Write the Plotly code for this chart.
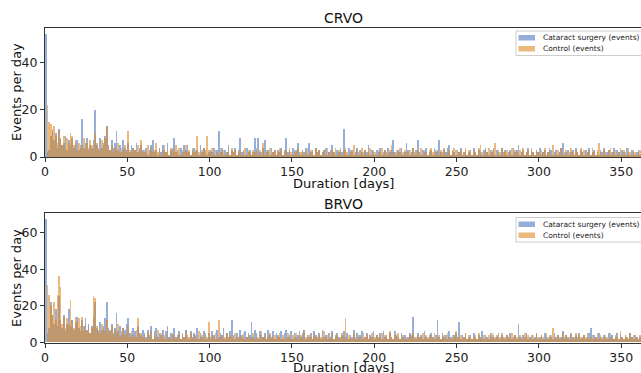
import plotly.graph_objects as go

# ---------------- data (events per day, day 0 .. 364) ----------------
crvo_cataract = [
    52, 2, 3, 9, 11, 7, 10, 4, 12, 8, 5, 6, 9, 3, 7, 5, 8, 4, 6, 7,
    3, 5, 16, 4, 6, 8, 3, 5, 4, 7, 20, 5, 3, 8, 4, 6, 9, 13, 5, 3,
    7, 4, 6, 11, 3, 5, 2, 7, 4, 3, 6, 2, 5, 4, 3, 6, 2, 4, 5, 3,
    2, 4, 1, 3, 5, 7, 2, 3, 1, 4, 2, 5, 3, 2, 6, 1, 3, 4, 8, 2,
    3, 1, 4, 2, 5, 3, 5, 2, 1, 3, 4, 2, 3, 1, 5, 2, 4, 3, 1, 2,
    3, 2, 4, 1, 3, 11, 2, 4, 1, 3, 2, 5, 1, 3, 2, 4, 1, 3, 8, 2,
    3, 1, 4, 2, 3, 1, 2, 8, 3, 8, 2, 1, 4, 7, 2, 3, 1, 4, 2, 3,
    1, 3, 2, 4, 1, 3, 8, 2, 3, 1, 4, 2, 3, 6, 2, 1, 3, 2, 4, 1,
    6, 2, 3, 1, 4, 2, 3, 1, 2, 3, 4, 1, 2, 3, 5, 2, 1, 3, 2, 4,
    2, 12, 3, 1, 4, 2, 3, 1, 2, 4, 1, 3, 2, 1, 3, 2, 5, 1, 3, 2,
    1, 3, 2, 4, 1, 2, 3, 1, 4, 2, 3, 7, 2, 1, 3, 2, 4, 1, 2, 6,
    3, 1, 2, 4, 1, 3, 7, 2, 1, 3, 2, 4, 1, 2, 3, 1, 4, 2, 3, 7,
    2, 1, 3, 2, 4, 5, 1, 3, 2, 1, 3, 2, 4, 1, 2, 3, 1, 2, 3, 1,
    4, 2, 1, 3, 2, 1, 3, 4, 2, 1, 3, 2, 4, 1, 3, 2, 1, 4, 2, 3,
    1, 2, 3, 1, 4, 2, 3, 5, 1, 2, 3, 1, 2, 4, 1, 3, 2, 1, 3, 2,
    4, 1, 2, 3, 1, 2, 4, 3, 1, 2, 3, 1, 2, 4, 6, 1, 2, 3, 1, 2,
    3, 1, 4, 2, 1, 3, 2, 1, 3, 2, 4, 1, 2, 3, 1, 2, 1, 3, 2, 4,
    1, 2, 3, 1, 2, 4, 1, 3, 2, 1, 3, 2, 1, 4, 2, 1, 3, 2, 1, 2, 3, 1, 2, 1, 3,
]
crvo_control = [
    0, 22, 15, 14, 12, 13, 9, 6, 11, 7, 5, 9, 4, 8, 6, 10, 9, 5, 7, 3,
    6, 4, 5, 8, 3, 6, 4, 7, 5, 3, 10, 6, 4, 3, 7, 5, 8, 13, 4, 3,
    5, 2, 4, 3, 6, 2, 4, 3, 5, 2, 11, 3, 2, 4, 3, 2, 5, 3, 7, 2,
    3, 2, 5, 1, 4, 2, 3, 6, 2, 4, 1, 3, 5, 2, 3, 1, 4, 2, 3, 5,
    2, 4, 1, 3, 2, 5, 2, 3, 1, 4, 2, 3, 9, 2, 1, 3, 4, 2, 9, 3,
    2, 4, 1, 3, 2, 1, 4, 2, 3, 1, 2, 3, 1, 4, 2, 3, 1, 2, 3, 1,
    2, 4, 1, 3, 2, 1, 3, 2, 4, 1, 3, 2, 6, 1, 3, 2, 4, 1, 2, 3,
    1, 2, 4, 3, 1, 2, 3, 1, 4, 2, 1, 3, 2, 4, 1, 2, 3, 1, 2, 4,
    1, 3, 2, 1, 4, 2, 3, 1, 2, 3, 1, 4, 2, 1, 3, 2, 4, 1, 3, 2,
    1, 3, 4, 2, 1, 3, 2, 5, 1, 3, 2, 1, 4, 2, 3, 1, 2, 4, 1, 3,
    2, 1, 3, 2, 4, 1, 3, 2, 1, 3, 5, 2, 1, 3, 2, 4, 1, 2, 3, 1,
    2, 3, 1, 4, 2, 1, 3, 2, 4, 1, 3, 2, 1, 3, 4, 2, 1, 3, 2, 1,
    3, 2, 4, 1, 2, 3, 1, 2, 4, 3, 1, 2, 3, 1, 2, 4, 1, 3, 2, 1,
    3, 2, 1, 4, 5, 2, 1, 3, 2, 4, 1, 3, 2, 6, 1, 3, 2, 4, 1, 2,
    3, 1, 2, 4, 1, 3, 2, 1, 3, 2, 4, 1, 2, 3, 1, 4, 2, 1, 3, 2,
    1, 3, 2, 4, 1, 2, 3, 1, 5, 2, 1, 3, 2, 4, 1, 2, 3, 1, 2, 4,
    2, 1, 3, 2, 1, 4, 2, 3, 1, 2, 3, 1, 4, 2, 1, 3, 6, 2, 1, 3,
    2, 1, 3, 4, 1, 2, 3, 1, 2, 4, 1, 3, 2, 1, 4, 2, 1, 3, 2, 1, 2, 3, 1, 2, 1,
]
brvo_cataract = [
    67, 5, 8, 22, 15, 10, 18, 9, 25, 12, 8, 15, 6, 10, 18, 9, 12, 7, 11, 14,
    8, 6, 12, 9, 13, 7, 10, 5, 9, 14, 22, 8, 6, 11, 7, 9, 13, 22, 8, 6,
    10, 5, 8, 16, 6, 9, 4, 8, 7, 10, 13, 5, 4, 8, 6, 3, 9, 5, 4, 7,
    5, 3, 7, 4, 9, 2, 6, 8, 3, 5, 4, 7, 2, 6, 9, 3, 5, 4, 8, 3,
    4, 6, 2, 5, 3, 7, 4, 2, 6, 3, 5, 4, 8, 2, 5, 3, 6, 4, 2, 5,
    3, 6, 4, 2, 7, 3, 5, 4, 8, 2, 5, 3, 6, 12, 4, 2, 5, 3, 7, 4,
    2, 6, 3, 5, 4, 11, 3, 7, 5, 2, 6, 4, 3, 5, 2, 7, 4, 3, 6, 2,
    5, 4, 3, 6, 2, 5, 7, 3, 4, 6, 2, 5, 3, 4, 6, 3, 5, 7, 2, 4,
    3, 5, 2, 6, 4, 3, 5, 2, 7, 3, 4, 2, 5, 3, 6, 2, 4, 5, 3, 2,
    4, 6, 3, 5, 2, 4, 3, 7, 2, 5, 3, 4, 6, 2, 3, 5, 2, 4, 3, 6,
    2, 4, 3, 5, 2, 6, 3, 4, 2, 5, 3, 2, 6, 4, 3, 2, 5, 3, 4, 2,
    3, 5, 4, 14, 3, 2, 5, 3, 4, 2, 6, 3, 2, 4, 5, 3, 2, 4, 12, 3,
    2, 5, 3, 4, 2, 6, 3, 2, 4, 5, 3, 11, 2, 4, 3, 5, 2, 3, 4, 2,
    5, 3, 2, 4, 3, 6, 2, 4, 3, 2, 5, 3, 4, 2, 3, 5, 2, 4, 3, 2,
    4, 3, 5, 2, 3, 4, 2, 10, 3, 2, 4, 3, 5, 2, 3, 4, 2, 3, 5, 2,
    3, 4, 2, 5, 3, 2, 4, 3, 2, 5, 3, 4, 2, 3, 6, 2, 4, 3, 2, 5,
    3, 2, 4, 3, 5, 2, 3, 4, 2, 3, 5, 8, 2, 4, 3, 2, 5, 3, 2, 4,
    3, 2, 5, 3, 4, 2, 3, 5, 2, 4, 3, 2, 4, 3, 2, 5, 3, 2, 4, 3, 2, 3, 4, 2, 3,
]
brvo_control = [
    0, 31, 26, 20, 15, 22, 12, 26, 36, 30, 10, 14, 8, 13, 10, 23, 12, 8, 14, 11,
    13, 9, 14, 7, 10, 6, 9, 5, 8, 25, 24, 9, 7, 5, 10, 8, 6, 12, 5, 7,
    9, 4, 7, 5, 10, 3, 6, 8, 4, 5, 9, 3, 6, 4, 3, 7, 13, 4, 5, 3,
    4, 2, 5, 3, 6, 2, 4, 3, 7, 2, 5, 3, 4, 2, 6, 3, 2, 5, 4, 2,
    3, 5, 2, 4, 3, 6, 2, 3, 5, 2, 4, 3, 2, 6, 3, 4, 2, 5, 3, 11,
    2, 4, 3, 5, 2, 12, 3, 4, 2, 3, 5, 2, 4, 3, 2, 5, 3, 2, 4, 3,
    5, 2, 3, 4, 2, 3, 5, 2, 4, 3, 2, 6, 3, 4, 2, 3, 5, 2, 3, 4,
    2, 3, 5, 2, 4, 3, 2, 5, 3, 2, 4, 3, 5, 2, 3, 4, 2, 6, 3, 2,
    4, 3, 2, 5, 3, 2, 4, 3, 2, 6, 3, 4, 2, 3, 5, 2, 3, 4, 2, 3,
    5, 3, 13, 2, 4, 3, 2, 5, 3, 2, 4, 3, 2, 5, 3, 4, 2, 3, 5, 2,
    3, 4, 2, 3, 5, 2, 4, 3, 2, 6, 3, 2, 4, 3, 5, 2, 3, 4, 2, 3,
    2, 4, 3, 5, 2, 3, 4, 2, 3, 5, 2, 4, 3, 2, 4, 3, 5, 2, 3, 4,
    2, 3, 4, 2, 5, 3, 2, 4, 3, 6, 2, 3, 4, 2, 3, 5, 2, 4, 3, 2,
    3, 4, 2, 5, 3, 2, 4, 3, 2, 4, 3, 5, 2, 3, 4, 2, 3, 5, 2, 3,
    4, 2, 3, 5, 2, 4, 3, 2, 4, 3, 2, 5, 3, 4, 2, 3, 4, 2, 5, 3,
    2, 4, 3, 2, 5, 3, 2, 4, 8, 3, 2, 4, 3, 2, 5, 3, 4, 2, 3, 4,
    2, 3, 5, 2, 4, 3, 2, 4, 3, 5, 2, 3, 4, 2, 3, 5, 2, 4, 3, 2,
    4, 3, 2, 5, 3, 2, 4, 3, 2, 6, 3, 2, 4, 3, 2, 5, 3, 4, 2, 3, 2, 4, 3, 2, 3,
]
series_names = ["Cataract surgery (events)", "Control (events)"]
panel_titles = ["CRVO", "BRVO"]
x_ticks = [0, 50, 100, 150, 200, 250, 300, 350]
top_y_ticks = [0, 20, 40]
bottom_y_ticks = [0, 20, 40, 60]

BLUE = "rgba(72,118,190,0.58)"
ORANGE = "rgba(221,136,40,0.6)"
FONT = "DejaVu Sans"
AX = "#333333"

W, H = 641, 373
ML, MR, MT, MB = 45, 0, 28, 30
PW, PH = W - ML - MR, H - MT - MB


def px(xp):  # page pixel x -> paper x
    return (xp - ML) / PW


def py(yp):  # page pixel y -> paper y
    return (H - MB - yp) / PH


fig = go.Figure()


def add_pair(cat, ctl, xa, ya):
    fig.add_trace(go.Bar(x=list(range(len(cat))), y=cat, width=1, offset=0,
                         marker=dict(color=BLUE, line=dict(width=0)),
                         name=series_names[0], xaxis=xa, yaxis=ya, showlegend=False))
    fig.add_trace(go.Bar(x=list(range(len(ctl))), y=ctl, width=1, offset=0,
                         marker=dict(color=ORANGE, line=dict(width=0)),
                         name=series_names[1], xaxis=xa, yaxis=ya, showlegend=False))


add_pair(crvo_cataract, crvo_control, "x", "y")
add_pair(brvo_cataract, brvo_control, "x2", "y2")

top_max = max(max(crvo_cataract), max(crvo_control)) * 1.05
bot_max = max(max(brvo_cataract), max(brvo_control)) * 1.05

axis_common = dict(showline=True, linecolor=AX, linewidth=1, ticks="outside",
                   ticklen=4, tickcolor=AX, showgrid=False, zeroline=False,
                   automargin=False,
                   tickfont=dict(family=FONT, size=12.5, color="#222"))

top_dom = [py(157), min(1, py(27.7))]
bot_dom = [max(0, py(342.7)), py(213.3)]

fig.update_layout(
    width=W, height=H,
    margin=dict(l=ML, r=MR, t=MT, b=MB),
    paper_bgcolor="white", plot_bgcolor="white",
    barmode="overlay", bargap=0,
    font=dict(family=FONT, color="#222"),
    xaxis=dict(domain=[0, 1], anchor="y", range=[0, 362], tickvals=x_ticks,
               mirror=True, ticklabelstandoff=-1, **axis_common),
    yaxis=dict(domain=top_dom, anchor="x", range=[0, top_max], tickvals=top_y_ticks,
               **axis_common),
    xaxis2=dict(domain=[0, 1], anchor="y2", range=[0, 362], tickvals=x_ticks,
                mirror=True, ticklabelstandoff=-1, **axis_common),
    yaxis2=dict(domain=bot_dom, anchor="x2", range=[0, bot_max], tickvals=bottom_y_ticks,
                **axis_common),
)

ann = []
shapes = []
for title, yc in zip(panel_titles, [18, 204]):
    ann.append(dict(text=title, x=px(343), y=py(yc), xref="paper", yref="paper",
                    showarrow=False, xanchor="center", yanchor="middle",
                    font=dict(family=FONT, size=14, color="#111")))
for yc in [183, 367]:
    ann.append(dict(text="Duration [days]", x=px(343), y=py(yc), xref="paper", yref="paper",
                    showarrow=False, xanchor="center", yanchor="middle",
                    font=dict(family=FONT, size=13, color="#111")))
for yc in [92, 278]:
    ann.append(dict(text="Events per day", x=px(16), y=py(yc), xref="paper", yref="paper",
                    showarrow=False, xanchor="center", yanchor="middle", textangle=-90,
                    font=dict(family=FONT, size=13, color="#111")))

# legends (one per panel), drawn as frame + colour patches + labels
for top in [31, 217.5]:
    shapes.append(dict(type="rect", xref="paper", yref="paper",
                       x0=px(516), x1=px(646), y0=py(top + 24.5), y1=py(top),
                       line=dict(color="#cccccc", width=1),
                       fillcolor="rgba(255,255,255,0.8)", layer="above"))
    for i, (name, col) in enumerate(zip(series_names, [BLUE, ORANGE])):
        y0 = top + 4 + i * 11
        shapes.append(dict(type="rect", xref="paper", yref="paper",
                           x0=px(518.5), x1=px(535), y0=py(y0 + 5.5), y1=py(y0),
                           line=dict(width=0), fillcolor=col, layer="above"))
        ann.append(dict(text=name, x=px(540.5), y=py(y0 + 2.9), xref="paper", yref="paper",
                        showarrow=False, xanchor="left", yanchor="middle",
                        font=dict(family=FONT, size=7.5, color="#222")))

fig.update_layout(annotations=ann, shapes=shapes)

fig.write_html(
    "out.html",
    config={"displayModeBar": False},
    post_script="document.body.style.margin='0';"
                "document.body.style.overflow='hidden';"
                "document.documentElement.style.overflow='hidden';",
)
